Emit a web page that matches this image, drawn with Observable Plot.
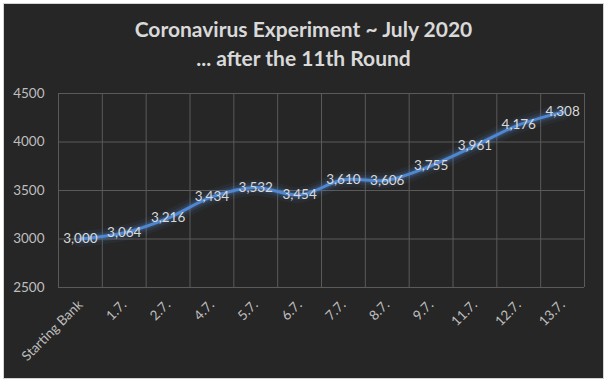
<!DOCTYPE html>
<html>
<head>
<meta charset="utf-8">
<script src="https://cdn.jsdelivr.net/npm/d3@7"></script>
<script src="https://cdn.jsdelivr.net/npm/@observablehq/plot@0.6"></script>
<style>
  html, body { margin: 0; padding: 0; background: #ffffff; }
  #panel { position: absolute; left: 3px; top: 3px; width: 599px; height: 374px;
           background: #262626; border: 1px solid #d4d4d4; overflow: hidden; }
  #title { position: absolute; left: 0; top: 10px; width: 599px; text-align: center;
           font-family: Lato, "Open Sans", sans-serif; font-weight: bold; font-size: 21px;
           line-height: 29px; color: #d9d9d9; }
  #chart { position: absolute; left: 0; top: 0; }
</style>
</head>
<body>
<div id="panel">
  <div id="chart"></div>
  <div id="title">Coronavirus Experiment ~ July 2020<br>... after the 11th Round</div>
</div>
<script>
const categories = ["Starting Bank", "1.7.", "2.7.", "4.7.", "5.7.", "6.7.", "7.7.", "8.7.", "9.7.", "11.7.", "12.7.", "13.7."];
const values = [3000, 3064, 3216, 3434, 3532, 3454, 3610, 3606, 3755, 3961, 4176, 4308];
const yTicks = [2500, 3000, 3500, 4000, 4500];

const data = categories.map((c, i) => ({i, c, v: values[i]}));
const boundaries = d3.range(categories.length + 1).map(k => k - 0.5);

const font = "Lato, 'Open Sans', sans-serif";
const grid = "#5a5a5a";
const lineColor = "#4f87d1";

const chart = Plot.plot({
  width: 599,
  height: 374,
  marginLeft: 54,
  marginRight: 19,
  marginTop: 89,
  marginBottom: 91,
  style: {background: "transparent", fontFamily: font, fontSize: "13.5px", color: "#bfbfbf"},
  x: {type: "linear", domain: [-0.5, categories.length - 0.5]},
  y: {domain: [2500, 4500]},
  marks: [
    Plot.ruleY(yTicks, {stroke: grid, strokeWidth: 1}),
    Plot.ruleX(boundaries, {stroke: grid, strokeWidth: 1}),
    Plot.axisY({ticks: yTicks, tickSize: 0, tickPadding: 14, tickFormat: d => String(d), label: null, fill: "#bfbfbf"}),
    Plot.axisX({ticks: d3.range(categories.length), tickSize: 0, tickPadding: 15, tickRotate: -45,
                tickFormat: i => categories[i], label: null, fill: "#bfbfbf"}),
    Plot.line(data, {x: "i", y: "v", curve: "catmull-rom", stroke: lineColor, strokeWidth: 16, strokeOpacity: 0.07}),
    Plot.line(data, {x: "i", y: "v", curve: "catmull-rom", stroke: lineColor, strokeWidth: 10, strokeOpacity: 0.12}),
    Plot.line(data, {x: "i", y: "v", curve: "catmull-rom", stroke: lineColor, strokeWidth: 6, strokeOpacity: 0.2}),
    Plot.line(data, {x: "i", y: "v", curve: "catmull-rom", stroke: lineColor, strokeWidth: 3}),
    Plot.text(data, {x: "i", y: "v", text: d => d3.format(",")(d.v), fill: "#d9d9d9", fontSize: 13.5})
  ]
});
document.getElementById("chart").appendChild(chart);
</script>
</body>
</html>
